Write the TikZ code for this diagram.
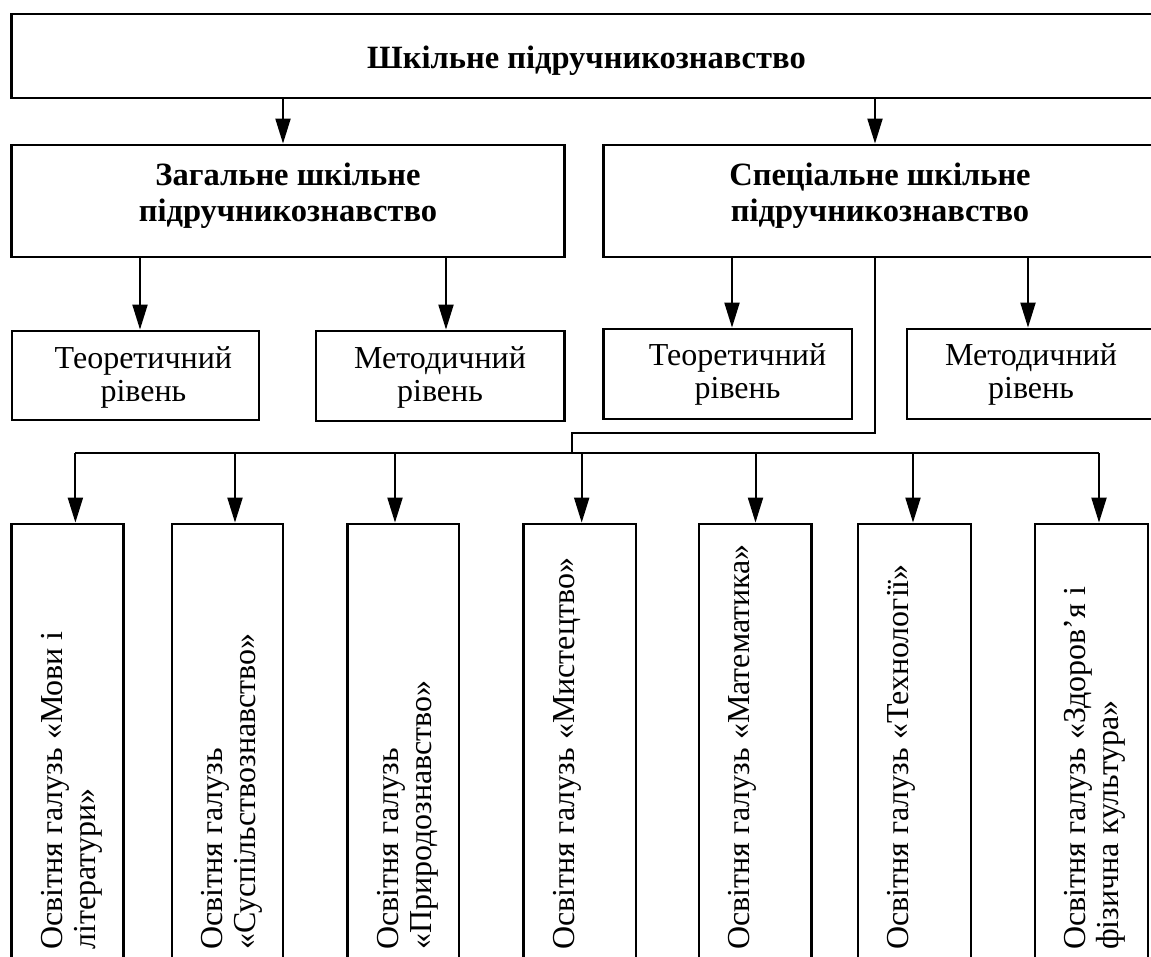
\documentclass[tikz,border=0pt]{standalone}
\usepackage{fontspec}
\setmainfont{Liberation Serif}
\usetikzlibrary{arrows.meta}
\begin{document}
\begin{tikzpicture}[x=1pt,y=-1pt,
  box/.style={draw, line width=2.8pt, inner sep=0pt},
  conn/.style={line width=2pt},
  arr/.style={line width=2pt, -{Triangle[length=25pt,width=15pt]}},
  bt/.style={font=\fontsize{32.5}{36.7}\selectfont\bfseries, align=center, inner sep=0pt, anchor=base},
  rt/.style={font=\fontsize{32}{33.5}\selectfont, align=center, inner sep=0pt, anchor=base},
  vt/.style={font=\fontsize{32}{33}\selectfont, align=left, inner sep=0pt, rotate=90, anchor=north west},
]
\useasboundingbox (0,0) rectangle (1151,956);
\clip (0,0) rectangle (1151,956);

% boxes
\node[box, minimum width=1150.5pt, minimum height=84pt] (T) at (586.75,56) {};
\node[box, minimum width=553pt, minimum height=112pt] (G) at (288,201) {};
\node[box, minimum width=554.4pt, minimum height=112pt] (S) at (880.8,201) {};
\node[box, minimum width=247pt, minimum height=89pt] (TL) at (135.5,375.5) {};
\node[box, minimum width=248.5pt, minimum height=90pt] (ML) at (440.25,376) {};
\node[box, minimum width=248.4pt, minimum height=90pt] (TR) at (727.8,374) {};
\node[box, minimum width=251pt, minimum height=90pt] (MR) at (1032.5,374) {};

\node[box, minimum width=111.8pt, minimum height=461pt] (B1) at (67.6,754.5) {};
\node[box, minimum width=111pt, minimum height=461pt] (B2) at (227.5,754.5) {};
\node[box, minimum width=111.5pt, minimum height=461pt] (B3) at (403.25,754.5) {};
\node[box, minimum width=112.5pt, minimum height=461pt] (B4) at (579.75,754.5) {};
\node[box, minimum width=112.5pt, minimum height=461pt] (B5) at (755.25,754.5) {};
\node[box, minimum width=113pt, minimum height=461pt] (B6) at (914.5,754.5) {};
\node[box, minimum width=113pt, minimum height=461pt] (B7) at (1091.5,754.5) {};

% texts (anchor=base is the baseline of the last line)
\node[bt] (tT) at (586.5,68) {Шкільне підручникознавство};
\node[bt] (tG) at (288,221.7) {Загальне шкільне\\підручникознавство};
\node[bt] (tS) at (880,221.7) {Спеціальне шкільне\\підручникознавство};
\node[rt] (tTL) at (143.4,401.7) {Теоретичний\\рівень};
\node[rt] (tML) at (440,401.7) {Методичний\\рівень};
\node[rt] (tTR) at (737.5,398.5) {Теоретичний\\рівень};
\node[rt] (tMR) at (1031,398.5) {Методичний\\рівень};

\node[vt] (v1) at (41.2,950) {Освітня галузь «Мови і\\літератури»};
\node[vt] (v2) at (201.5,950) {Освітня галузь\\«Суспільствознавство»};
\node[vt] (v3) at (377,950) {Освітня галузь\\«Природознавство»};
\node[vt] (v4) at (553,950) {Освітня галузь «Мистецтво»};
\node[vt] (v5) at (728.5,950) {Освітня галузь «Математика»};
\node[vt] (v6) at (887.5,950) {Освітня галузь «Технології»};
\node[vt] (v7) at (1064.5,950) {Освітня галузь «Здоров’я і\\фізична культура»};

% connectors
\coordinate (x1) at (283,0);
\coordinate (x2) at (875,0);
\coordinate (x3) at (140,0);
\coordinate (x4) at (446,0);
\coordinate (x5) at (732,0);
\coordinate (x6) at (1028,0);
\draw[arr] (x1 |- T.south) -- (x1 |- G.north);
\draw[arr] (x2 |- T.south) -- (x2 |- S.north);
\draw[arr] (x3 |- G.south) -- (x3 |- TL.north);
\draw[arr] (x4 |- G.south) -- (x4 |- ML.north);
\draw[arr] (x5 |- S.south) -- (x5 |- TR.north);
\draw[arr] (x6 |- S.south) -- (x6 |- MR.north);

\coordinate (k1) at (875,433);
\coordinate (k2) at (572,433);
\coordinate (k3) at (572,453);
\draw[conn] (x2 |- S.south) -- (k1) -- (k2) -- (k3);

\coordinate (j1) at (75.4,453);
\coordinate (j2) at (235,453);
\coordinate (j3) at (395,453);
\coordinate (j4) at (581.7,453);
\coordinate (j5) at (755.5,453);
\coordinate (j6) at (913,453);
\coordinate (j7) at (1099,453);
\draw[conn] (j1) -- (j7);
\draw[arr] (j1) -- (j1 |- B1.north);
\draw[arr] (j2) -- (j2 |- B2.north);
\draw[arr] (j3) -- (j3 |- B3.north);
\draw[arr] (j4) -- (j4 |- B4.north);
\draw[arr] (j5) -- (j5 |- B5.north);
\draw[arr] (j6) -- (j6 |- B6.north);
\draw[arr] (j7) -- (j7 |- B7.north);
\end{tikzpicture}
\end{document}
